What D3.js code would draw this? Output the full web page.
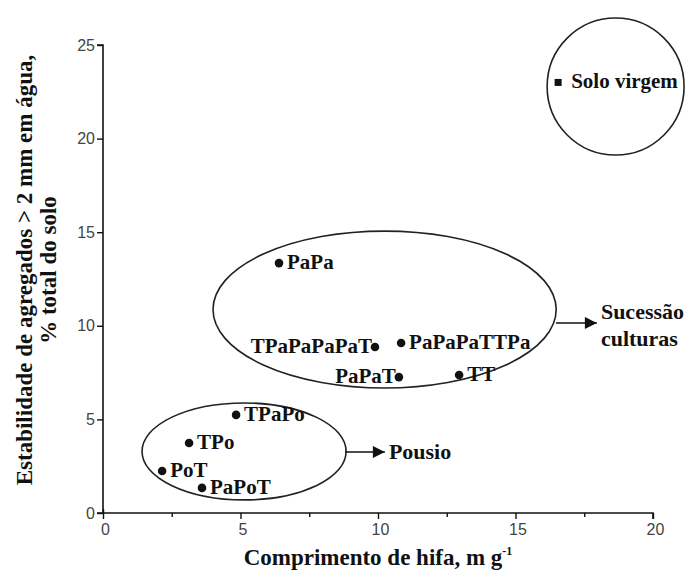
<!DOCTYPE html>
<html>
<head>
<meta charset="utf-8">
<script src="https://cdn.jsdelivr.net/npm/d3@7"></script>
<style>
  html, body { margin: 0; padding: 0; background: #fff; }
  svg { display: block; }
</style>
</head>
<body>
<svg id="chart" width="686" height="581"></svg>
<script>
// ---- data ----
const treatments = ["Solo virgem", "PaPa", "TPaPaPaPaT", "PaPaPaTTPa", "PaPaT", "TT", "TPaPo", "TPo", "PoT", "PaPoT"];
const hyphaLength = [16.55, 6.4, 9.89, 10.84, 10.76, 12.95, 4.84, 3.13, 2.15, 3.6];
const aggregateStability = [23.0, 13.35, 8.87, 9.08, 7.26, 7.37, 5.24, 3.74, 2.24, 1.34];
const markerShape = ["square", "circle", "circle", "circle", "circle", "circle", "circle", "circle", "circle", "circle"];
const labelSide = ["right", "right", "left", "right", "left", "right", "right", "right", "right", "right"];

const groupNames = ["Solo virgem", "Sucessão culturas", "Pousio"];
const groupCx = [18.64, 10.24, 5.13];
const groupCy = [22.78, 10.87, 3.29];
const groupRx = [2.49, 6.24, 3.71];
const groupRy = [3.66, 4.19, 2.59];

const arrowGroups = ["Sucessão culturas", "Pousio"];
const arrowX0 = [16.47, 8.8];
const arrowX1 = [17.96, 10.25];
const arrowY = [10.15, 3.26];
const arrowText = [["Sucessão", "culturas"], ["Pousio"]];

const xTicks = [0, 5, 10, 15, 20];
const xMinorTicks = [2.5, 7.5, 12.5, 17.5];
const yTicks = [0, 5, 10, 15, 20, 25];

const xTitle = "Comprimento de hifa, m g";
const xTitleSup = "-1";
const yTitle = ["Estabilidade de agregados > 2 mm em água,", "% total do solo"];

// ---- layout ----
const margin = { left: 103, right: 33, top: 45, bottom: 68 };
const W = 686, H = 581;
const svg = d3.select("#chart");
const x = d3.scaleLinear().domain([0, 20]).range([margin.left, W - margin.right]);
const y = d3.scaleLinear().domain([0, 25]).range([H - margin.bottom, margin.top]);

const serif = "'Liberation Serif', 'Times New Roman', Times, serif";
const sans = "'Liberation Sans', Arial, Helvetica, sans-serif";

// axes
const xAxis = d3.axisBottom(x).tickValues(xTicks).tickSize(6).tickPadding(4).tickFormat(d3.format("d"));
const gx = svg.append("g").attr("transform", `translate(0,${y(0)})`).call(xAxis);
gx.selectAll(".tick").filter(d => d === 0).select("line").attr("y1", -4);
const gxm = svg.append("g").attr("transform", `translate(0,${y(0)})`)
  .call(d3.axisBottom(x).tickValues(xMinorTicks).tickSize(4).tickFormat(""));
gxm.select(".domain").remove();

const yAxis = d3.axisLeft(y).tickValues(yTicks).tickSize(6).tickPadding(2).tickFormat(d3.format("d"));
const gy = svg.append("g").attr("transform", `translate(${x(0)},0)`).call(yAxis);

[gx, gxm, gy].forEach(g => {
  g.select(".domain").attr("stroke", "#111").attr("stroke-width", 1.6);
  g.selectAll(".tick line").attr("stroke", "#111").attr("stroke-width", 1.4);
  g.selectAll(".tick text").attr("font-family", sans).attr("font-size", 16).attr("fill", "#444");
});
gx.select(".domain").attr("d", `M${x(0) - 6},0H${x(20)}V6`);
gy.select(".domain").attr("d", `M0,${y(0)}V${y(25)}H-6`);
gx.selectAll(".tick text").attr("dy", "0.75em").attr("dx", "2");

// axis titles
const xt = svg.append("text")
  .attr("x", 378).attr("y", 565)
  .attr("text-anchor", "middle")
  .attr("font-family", serif).attr("font-weight", "bold").attr("font-size", 23)
  .attr("fill", "#111");
xt.append("tspan").text(xTitle);
xt.append("tspan").attr("font-size", 12).attr("dy", -10).text(xTitleSup);

svg.append("g").selectAll("text").data(yTitle).join("text")
  .attr("transform", (d, i) => `translate(${i === 0 ? 32 : 56},270) rotate(-90)`)
  .attr("text-anchor", "middle")
  .attr("font-family", serif).attr("font-weight", "bold").attr("font-size", 23)
  .attr("fill", "#111")
  .text(d => d);

// group ellipses
svg.append("g").selectAll("ellipse").data(groupNames).join("ellipse")
  .attr("cx", (d, i) => x(groupCx[i]))
  .attr("cy", (d, i) => y(groupCy[i]))
  .attr("rx", (d, i) => x(groupRx[i]) - x(0))
  .attr("ry", (d, i) => y(0) - y(groupRy[i]))
  .attr("fill", "none").attr("stroke", "#222").attr("stroke-width", 1.6);

// arrows
const defs = svg.append("defs");
defs.append("marker").attr("id", "arrowhead")
  .attr("viewBox", "0 0 10 10").attr("refX", 10).attr("refY", 5)
  .attr("markerWidth", 14).attr("markerHeight", 12).attr("markerUnits", "userSpaceOnUse")
  .attr("orient", "auto")
  .append("path").attr("d", "M0,0L10,5L0,10Z").attr("fill", "#111");

svg.append("g").selectAll("line").data(arrowGroups).join("line")
  .attr("x1", (d, i) => x(arrowX0[i]))
  .attr("x2", (d, i) => x(arrowX1[i]))
  .attr("y1", (d, i) => y(arrowY[i]))
  .attr("y2", (d, i) => y(arrowY[i]))
  .attr("stroke", "#111").attr("stroke-width", 1.6)
  .attr("marker-end", "url(#arrowhead)");

svg.append("g").selectAll("text").data(arrowGroups).join("text")
  .attr("font-family", serif).attr("font-weight", "bold").attr("font-size", 22)
  .attr("fill", "#111")
  .attr("x", (d, i) => x(arrowX1[i]) + 4)
  .attr("y", (d, i) => y(arrowY[i]))
  .each(function(d, i) {
    const lines = arrowText[i];
    const t = d3.select(this);
    lines.forEach((ln, j) => {
      t.append("tspan")
        .attr("x", x(arrowX1[i]) + 4)
        .attr("dy", j === 0 ? (lines.length === 1 ? 7 : -4) : 27)
        .text(ln);
    });
  });

// points
const pts = svg.append("g");
treatments.forEach((name, i) => {
  const cx = x(hyphaLength[i]), cy = y(aggregateStability[i]);
  const isSquare = markerShape[i] === "square";
  if (isSquare) {
    pts.append("rect").attr("x", cx - 3.5).attr("y", cy - 3.5).attr("width", 7).attr("height", 7).attr("fill", "#111");
  } else {
    pts.append("circle").attr("cx", cx).attr("cy", cy).attr("r", 4.3).attr("fill", "#111");
  }
  pts.append("text")
    .attr("x", labelSide[i] === "right" ? cx + (isSquare ? 13 : 8) : cx - 3)
    .attr("y", cy + 6)
    .attr("text-anchor", labelSide[i] === "right" ? "start" : "end")
    .attr("font-family", serif).attr("font-weight", "bold").attr("font-size", 21)
    .attr("fill", "#111")
    .text(name);
});
</script>
</body>
</html>
